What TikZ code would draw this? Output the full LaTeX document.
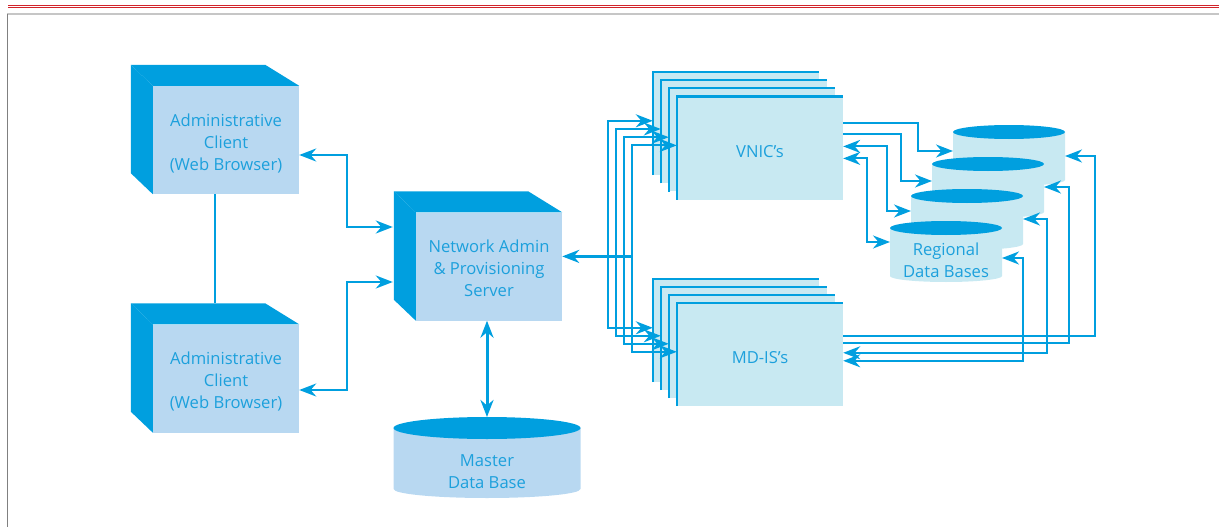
\documentclass[tikz,border=0pt]{standalone}
\usepackage{fontspec}
\setmainfont{Open Sans}
\usetikzlibrary{positioning, calc, arrows.meta}
\definecolor{net-dark}{RGB}{0,159,223}
\definecolor{net-face}{RGB}{184,216,241}
\definecolor{net-cyan}{RGB}{200,233,242}
\definecolor{net-text}{RGB}{28,160,220}
\definecolor{frame-red}{RGB}{210,35,42}
\definecolor{frame-gray}{RGB}{198,198,198}

\begin{document}
\begin{tikzpicture}[x=1pt, y=-1pt]
	\tikzset{face/.style={rectangle, fill=net-face, minimum width=146pt, minimum height=108pt, inner sep=0pt}}
	\tikzset{layer/.style={rectangle, fill=net-cyan, minimum width=166pt, minimum height=103pt, inner sep=0pt}}
	\tikzset{rim/.style={net-dark, line width=2.5pt}}
	\tikzset{words/.style={align=center, text=net-text, font=\fontsize{16.6}{22}\selectfont}}
	\tikzset{arr/.style={{Stealth[length=17pt, width=13pt, inset=5.5pt]}-{Stealth[length=17pt, width=13pt, inset=5.5pt]}, net-dark, line width=2pt}}
	\tikzset{toarr/.style={-{Stealth[length=17pt, width=13pt, inset=5.5pt]}, net-dark, line width=2pt}}

	\useasboundingbox (0,0) rectangle (1219,527);
	\draw[frame-red, line width=0.9pt] (8,5.4) -- (1219,5.4) (8,7.5) -- (1219,7.5);
	\draw[frame-gray, line width=2pt] (7,14.3) -- (1219,14.3);
	\draw[gray, line width=1pt] (7.5,14.3) -- (7.5,527);

	\node[face] (client1) at (226,140) {};
	\node[face] (client2) at (226,378.5) {};
	\node[face] (server) at (489,266.5) {};
	\foreach \b in {client1, client2, server} {
		\fill[net-dark] (\b.north west) -- ++(-22,-21) -- ($(\b.north east)+(-34,-21)$) -- (\b.north east) -- cycle;
		\fill[net-dark] (\b.north west) -- ++(-22,-21) -- ($(\b.south west)+(-22,-21)$) -- (\b.south west) -- cycle;
	}
	\node[words] (client1text) at ($(client1)+(0,3.5)$) {Administrative\\Client\\(Web Browser)};
	\node[words] (client2text) at ($(client2)+(0,3.5)$) {Administrative\\Client\\(Web Browser)};
	\node[words] (servertext) at ($(server)+(0,2)$) {Network Admin\\\& Provisioning\\Server};
	\draw[net-dark, line width=2.5pt] ($(client1.south)+(-11,0)$) -- ($(client2.north)+(-11,-21)$);
	\draw[arr] ($(client1.east)+(0,15)$) -- ++(48,0) |- ($(server.west)+(-23,-39.5)$);
	\draw[arr] ($(client2.east)+(0,11.5)$) -- ++(48,0) |- ($(server.west)+(-23,15.5)$);

	% master data base
	\coordinate (mtop) at (487,428);
	\fill[net-face] (393.5,428) -- (393.5,489) arc[start angle=180, end angle=360, x radius=93.5pt, y radius=9pt] -- (580.5,428) -- cycle;
	\fill[net-dark] (mtop) ellipse[x radius=93.5pt, y radius=11pt];
	\node[words] (master) at (487,471.5) {Master\\Data Base};
	\draw[arr, line width=3pt] (server.south -| mtop) -- ($(mtop)+(0,-11)$);

	% stacks
	\foreach \j in {0,...,3} {
		\node[layer] (vnic\j) at (736+8*\j, 123.5+8.2*\j) {};
		\draw[rim] (vnic\j.south west) -- (vnic\j.north west) -- (vnic\j.north east);
		\node[layer] (mdis\j) at (736+8*\j, 330.5+8*\j) {};
		\draw[rim] (mdis\j.south west) -- (mdis\j.north west) -- (mdis\j.north east);
	}
	\node[words] (vnictext) at ($(vnic3)+(0,3)$) {VNIC’s};
	\node[words] (mdistext) at ($(mdis3)+(0,3)$) {MD-IS’s};
	\foreach \j in {0,...,3}
		\draw[arr] ($(vnic\j.north west)+(0,49)$) -- ++(-45,0) |- ($(mdis\j.north west)+(0,49)$);
	\coordinate (trunk) at ($(vnic3.north west)+(-45,160)$);
	\draw[toarr, line width=3pt] (trunk) -- (trunk -| server.east);

	% regional data bases
	\foreach \i/\cx/\cy in {1/1009/132, 2/988/164, 3/967/196, 4/946/228} {
		\fill[net-cyan] (\cx-56,\cy) -- (\cx-56,\cy+48) arc[start angle=180, end angle=360, x radius=56pt, y radius=6pt] -- (\cx+56,\cy) -- cycle;
		\fill[net-dark] (\cx,\cy) ellipse[x radius=56pt, y radius=7pt];
		\coordinate (rdb\i) at (\cx,\cy);
	}
	\node[words] (regional) at (946,260) {Regional\\Data Bases};

	\draw[toarr] ($(vnic3.north east)+(0,27)$) -| ($(rdb1)+(-91,19)$) -- ($(rdb1)+(-56,19)$);
	\draw[toarr] ($(vnic3.north east)+(0,38)$) -| ($(rdb2)+(-87,17)$) -- ($(rdb2)+(-56,17)$);
	\draw[arr] ($(vnic3.north east)+(0,50)$) -| ($(rdb3)+(-80,15)$) -- ($(rdb3)+(-56,15)$);
	\draw[arr] ($(vnic3.north east)+(0,62)$) -| ($(rdb4)+(-79,14)$) -- ($(rdb4)+(-56,14)$);

	\draw[toarr] ($(mdis3.north east)+(0,33)$) -| ($(rdb1)+(86,24)$) -- ($(rdb1)+(56,24)$);
	\draw[toarr] ($(mdis3.north east)+(0,40)$) -| ($(rdb2)+(81,23)$) -- ($(rdb2)+(56,23)$);
	\draw[arr] ($(mdis3.north east)+(0,50)$) -| ($(rdb3)+(80,23)$) -- ($(rdb3)+(56,23)$);
	\draw[arr] ($(mdis3.north east)+(0,58)$) -| ($(rdb4)+(77,30)$) -- ($(rdb4)+(56,30)$);
\end{tikzpicture}
\end{document}
